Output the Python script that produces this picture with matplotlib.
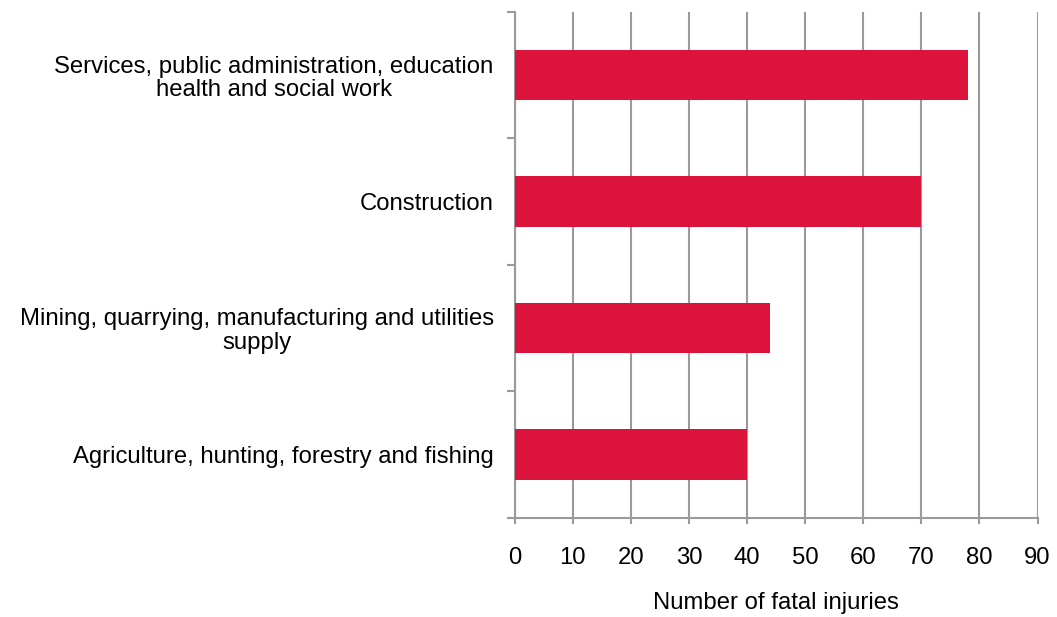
import matplotlib
matplotlib.use("Agg")
import matplotlib.pyplot as plt
import numpy as np

categories = [
    "Agriculture, hunting, forestry and fishing",
    "Mining, quarrying, manufacturing and utilities\nsupply",
    "Construction",
    "Services, public administration, education\nhealth and social work",
]
fatal_injuries = [40, 44, 70, 78]
x_ticks = [0, 10, 20, 30, 40, 50, 60, 70, 80, 90]

plt.rcParams["font.family"] = ["Liberation Sans", "DejaVu Sans"]

fig = plt.figure(figsize=(10.57, 6.17), dpi=100)
ax = fig.add_axes([514.5 / 1057, 1 - 517.5 / 617, (1037.5 - 514.5) / 1057, (517.5 - 12) / 617])

grid_color = "#9a9a9a"
fs = 17.2
y = np.arange(len(categories))
ax.barh(y, fatal_injuries, height=0.4, color="#DC143C", zorder=3)

ax.set_xlim(0, 90)
ax.set_ylim(-0.5, len(categories) - 0.5)
ax.set_xticks(x_ticks)
ax.set_xticklabels([str(v) for v in x_ticks], fontsize=fs)
ax.xaxis.grid(True, color=grid_color, linewidth=1.5, zorder=0)
ax.tick_params(axis="x", direction="out", length=4, width=1.5, color=grid_color, pad=17)

ax.set_yticks(y)
ax.set_yticklabels(categories, fontsize=fs, multialignment="center", linespacing=1.1)
ax.set_yticks(np.arange(len(categories) + 1) - 0.5, minor=True)
ax.tick_params(axis="y", which="major", length=0, pad=15)
ax.tick_params(axis="y", which="minor", direction="out", length=5.5, width=1.5, color=grid_color)

for side in ["top", "right"]:
    ax.spines[side].set_visible(False)
for side in ["left", "bottom"]:
    ax.spines[side].set_color(grid_color)
    ax.spines[side].set_linewidth(1.5)

ax.set_xlabel("Number of fatal injuries", fontsize=fs, va="center")
ax.xaxis.set_label_coords(0.5, (517.5 - 603) / (517.5 - 12))

fig.savefig("out.png", dpi=100)
